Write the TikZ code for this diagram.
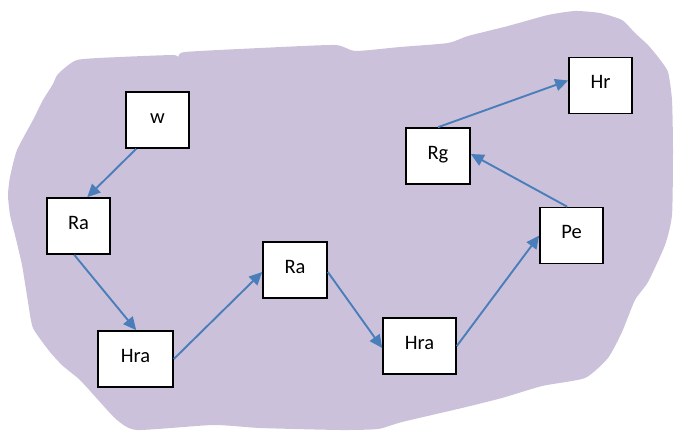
\documentclass[tikz,border=0pt]{standalone}
\usepackage{fontspec}
\setmainfont{Carlito}
\usetikzlibrary{arrows.meta}
\definecolor{blob}{HTML}{CCC1DA}
\definecolor{arr}{HTML}{4A7EBB}
\tikzset{
  box/.style={draw=black, line width=1.6pt, fill=white, minimum height=56pt, minimum width=63pt,
    inner sep=0pt, text height=13pt, text depth=7pt, font=\fontsize{20.5}{23}\selectfont},
  conn/.style={draw=arr, line width=1.9pt, -{Triangle[length=13pt,width=12pt]}}
}
\begin{document}
\begin{tikzpicture}[x=1pt,y=-1pt]
\useasboundingbox (0,0) rectangle (675,431);
\fill[blob] plot[smooth cycle, tension=0.35] coordinates {
 (77,60) (120,57) (173,55) (178,57) (185,52) (260,48) (335,45) (355,51) (400,47) (448,43) (468,36)
 (508,26) (548,15) (575,11) (600,13) (622,20) (635,33) (648,45) (658,57) (668,72) (672,100)
 (673,150) (672,215) (665,245) (648,282) (635,300) (622,332) (608,358) (585,378) (542,386)
 (502,398) (462,408) (402,422) (378,429) (340,430) (260,428) (213,425) (137,430) (117,420)
 (100,402) (80,380) (63,366) (50,352) (33,328) (28,302) (22,265) (15,235) (10,215) (8,195)
 (10,177) (17,150) (33,120) (43,100) (53,84) (58,74)
};
\node[box] (w) at (157.5,120) {w};
\node[box] (ra1) at (78.5,226) {Ra};
\node[box, minimum width=75pt] (hra1) at (135.5,359) {Hra};
\node[box, minimum width=64pt] (ra2) at (295,270) {Ra};
\node[box, minimum width=73pt] (hra2) at (419.5,346) {Hra};
\node[box] (pe) at (571.5,235.5) {Pe};
\node[box, minimum width=64pt] (rg) at (438,156) {Rg};
\node[box] (hr) at (600.5,85.5) {Hr};
\draw[conn] ([xshift=11pt]w.south west) -- ([xshift=41pt]ra1.north west);
\draw[conn] ([xshift=28pt]ra1.south west) -- ([xshift=39pt]hra1.north west);
\draw[conn] (hra1.east) -- ([yshift=-2pt]ra2.west);
\draw[conn] ([yshift=-2pt]ra2.east) -- ([yshift=-2pt]hra2.west);
\draw[conn] (hra2.east) -- (pe.west);
\draw[conn] ([xshift=28pt]pe.north west) -- ([yshift=2pt]rg.east);
\draw[conn] (rg.north) -- ([yshift=5pt]hr.west);
\end{tikzpicture}
\end{document}
